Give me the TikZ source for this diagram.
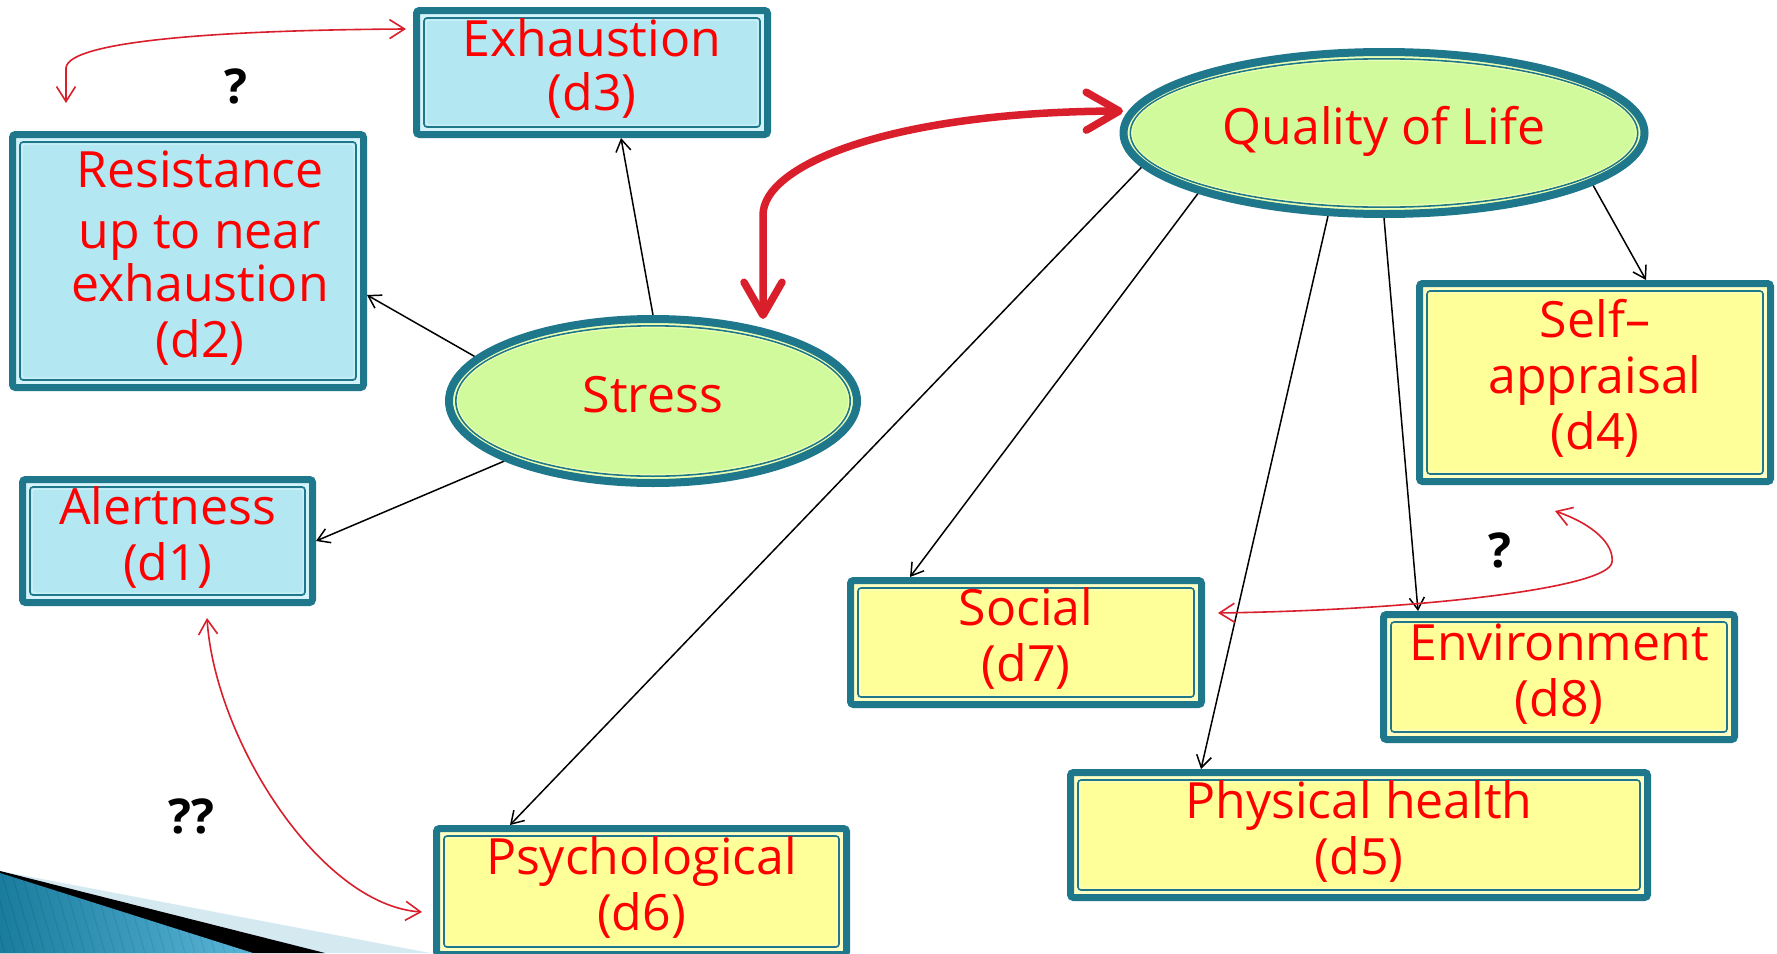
\documentclass[tikz,border=0pt]{standalone}
\usepackage{fontspec}
\setmainfont{Open Sans}
\usetikzlibrary{arrows.meta,shapes.geometric,backgrounds}

\definecolor{rimteal}{HTML}{1F778B}
\definecolor{fillblue}{HTML}{B3E8F2}
\definecolor{gapblue}{HTML}{D4F3FA}
\definecolor{fillyellow}{HTML}{FFFF99}
\definecolor{gapyellow}{HTML}{FFFFC4}
\definecolor{fillgreen}{HTML}{D1FA9C}
\definecolor{gapgreen}{HTML}{ECFFB6}
\definecolor{labelred}{HTML}{FF0000}
\definecolor{linkred}{HTML}{DA1F2C}
\definecolor{swooshlight}{HTML}{D5E9F1}
\definecolor{swooshdark}{HTML}{1A7C9E}
\definecolor{swooshmid}{HTML}{5AB6D9}

\newcommand\lbl{\fontsize{50}{56}\selectfont}
\newcommand\boxlines[1]{\begin{tabular}{@{}c@{}}#1\end{tabular}}

\tikzset{
  framebox/.style n args={2}{rectangle, rounded corners=3pt, draw=rimteal, line width=7pt,
    inner sep=0pt, outer sep=3.5pt, text=labelred, font=\lbl, fill=#2,
    path picture={
      \draw[rimteal, line width=1.6pt, fill=#1]
        ([shift={(7.5pt,-7.5pt)}]path picture bounding box.north west) rectangle
        ([shift={(-7.5pt,7.5pt)}]path picture bounding box.south east);
      \draw[#2, line width=1pt]
        ([shift={(9.5pt,-9.5pt)}]path picture bounding box.north west) rectangle
        ([shift={(-9.5pt,9.5pt)}]path picture bounding box.south east);
    }},
  bluebox/.style={framebox={fillblue}{gapblue}},
  yellowbox/.style={framebox={fillyellow}{gapyellow}},
  oval/.style n args={6}{ellipse, draw=rimteal, line width=8pt, inner sep=0pt, outer sep=4pt,
    minimum width=#1, minimum height=#2, fill=gapgreen, text=labelred, font=\lbl,
    path picture={
      \draw[rimteal, line width=1.6pt, fill=fillgreen] (path picture bounding box.center)
        ellipse [x radius=#3, y radius=#4];
      \draw[gapgreen, line width=1pt] (path picture bounding box.center)
        ellipse [x radius=#5, y radius=#6];
    }},
  conn/.style={draw=black, line width=1.5pt, -{Straight Barb[length=12pt,width=15pt]}},
  redlink/.style={draw=linkred, line width=1.6pt,
    {Straight Barb[length=15pt,width=19pt]}-{Straight Barb[length=15pt,width=19pt]}},
  bigred/.style={draw=linkred, line width=7.5pt, line cap=round, line join=round,
    {Straight Barb[length=33pt,width=38pt,round]}-{Straight Barb[length=33pt,width=38pt,round]}},
  qmark/.style={font=\fontsize{48}{56}\selectfont\bfseries, text=black, inner sep=0pt, anchor=base}
}

\begin{document}
\begin{tikzpicture}[x=1pt,y=-1pt]
\useasboundingbox (0,0) rectangle (1777,953);

% latent variables
\node[oval={408pt}{164pt}{197.2pt}{75.2pt}{195.5pt}{73.5pt}] (stress) at (653,401) {\boxlines{Stress}};
\node[oval={521pt}{162pt}{253.7pt}{74.2pt}{252pt}{72.5pt}] (qol) at (1384,133) {\boxlines{Quality of Life}};

% stress indicators
\node[bluebox, minimum width=351pt, minimum height=124pt] (d3) at (592,72.5) {\boxlines{Exhaustion\\[-2pt](d3)}};
\node[bluebox, minimum width=351pt, minimum height=253pt] (d2) at (188,261)
  {\begin{tabular}{@{\hspace{24pt}}c@{}}Resistance\\[5pt]up to near\\[-3pt]exhaustion\\(d2)\end{tabular}};
\node[bluebox, minimum width=290pt, minimum height=123pt] (d1) at (167.5,541) {\boxlines{Alertness\\(d1)}};

% quality of life indicators
\node[yellowbox, minimum width=351pt, minimum height=198pt] (d4) at (1595,382.5) {\boxlines{Self–\\appraisal\\(d4)}};
\node[yellowbox, minimum width=351pt, minimum height=124pt] (d7) at (1026,642.5) {\boxlines{Social\\(d7)}};
\node[yellowbox, minimum width=351pt, minimum height=125pt] (d8) at (1559,677) {\boxlines{Environment\\(d8)}};
\node[yellowbox, minimum width=577pt, minimum height=125pt] (d5) at (1359,835) {\boxlines{Physical health\\(d5)}};
\node[yellowbox, minimum width=410pt, minimum height=126pt] (d6) at (641.5,891.5) {\boxlines{Psychological\\(d6)}};

% question marks
\node[qmark] (q1) at (236,103) {?};
\node[qmark] (q2) at (1500,567) {?};
\node[qmark] (q3) at (191,833) {??};

\begin{scope}[on background layer]
  \fill[white] (0,0) rectangle (1777,953);
  % corner swoosh
  \fill[swooshlight] (0,871) -- (430,953) -- (0,953) -- cycle;
  \fill[black] (0,871) -- (325,953) -- (0,953) -- cycle;
  \shade[left color=swooshdark, right color=swooshmid] (0,873) -- (253,953) -- (0,953) -- cycle;
  \begin{scope}
    \clip (0,873) -- (253,953) -- (0,953) -- cycle;
    \foreach \s in {-30,-20,...,260}
      \draw[black, opacity=0.08, line width=1pt] (\s,868) -- (\s+25,953);
  \end{scope}
  % loadings
  \draw[conn] (stress.north) -- ([xshift=29pt]d3.south);
  \draw[conn] (stress.166) -- ([yshift=-34pt]d2.east);
  \draw[conn] (stress.202) -- (d1.east);
  \draw[conn] (qol.188) -- ([xshift=-131.5pt]d6.north);
  \draw[conn] (qol.198) -- ([xshift=-116pt]d7.north);
  \draw[conn] (qol.236) -- ([xshift=-158pt]d5.north);
  \draw[conn] (qol.south) -- ([xshift=-141pt]d8.north);
  \draw[conn] (qol.346) -- ([xshift=51pt]d4.north);
\end{scope}

% correlations
\draw[bigred] ([xshift=110pt,yshift=82pt]stress.center) -- (763,215)
  .. controls (763,165) and (890,112) .. ([xshift=-261pt,yshift=22pt]qol.center);
\coordinate (qleft) at (66,103);
\draw[redlink] ([xshift=-7pt,yshift=43.5pt]d3.west) .. controls (230,30) and (68,40) .. (66,68) -- (qleft);
\draw[redlink] ([xshift=39.5pt,yshift=-77pt]d1.center) .. controls (215,740) and (320,905)
  .. ([xshift=-11pt,yshift=-20.5pt]d6.west);
\draw[redlink] ([xshift=-40pt,yshift=-128.5pt]d4.center) .. controls (1595,525) and (1614,545) .. (1612,562)
  .. controls (1610,588) and (1420,610) .. ([xshift=13pt,yshift=29.5pt]d7.east);
\end{tikzpicture}
\end{document}
